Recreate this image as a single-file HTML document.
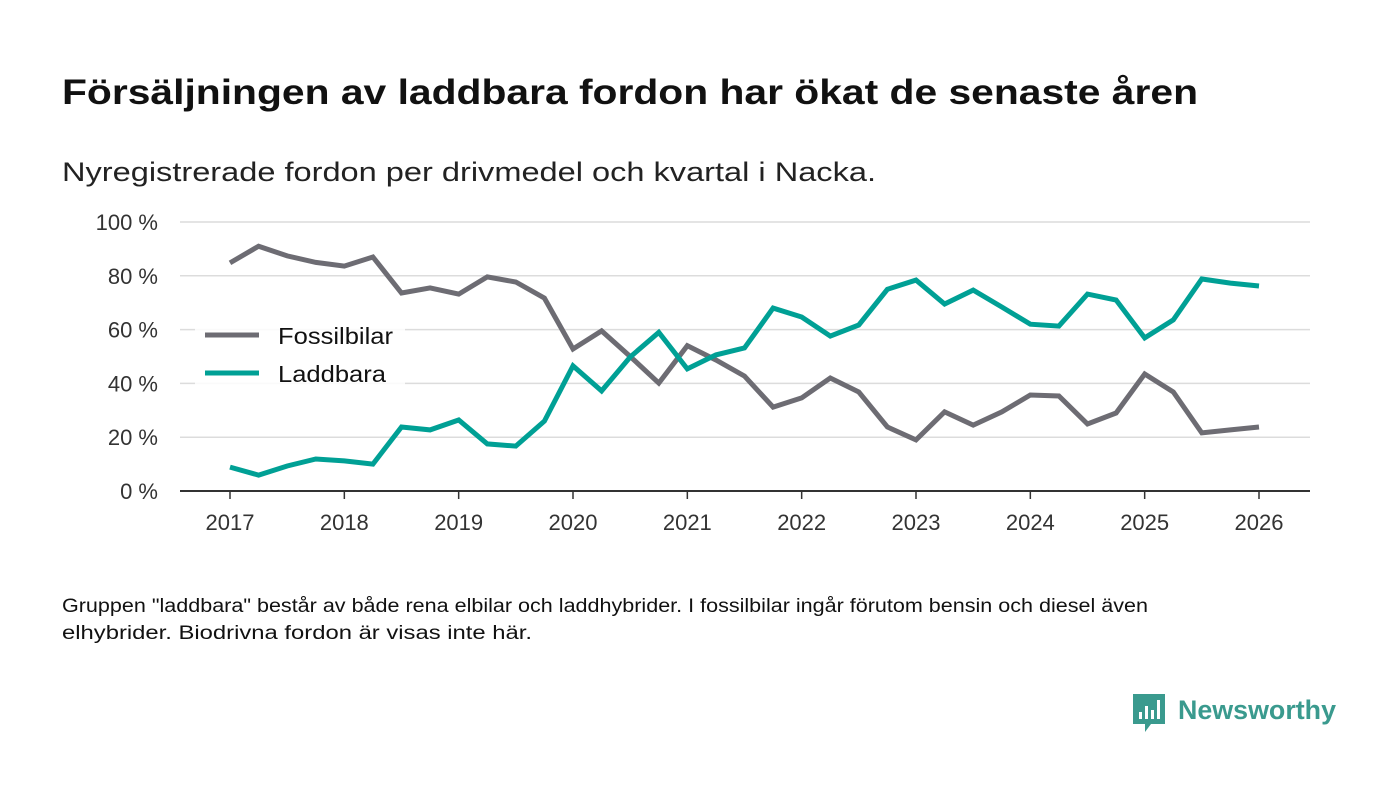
<!DOCTYPE html>
<html><head><meta charset="utf-8"><style>
html,body{margin:0;padding:0;background:#fff;width:1400px;height:793px;overflow:hidden}
svg{display:block;font-family:"Liberation Sans","DejaVu Sans",sans-serif}
</style></head><body>
<svg id="chart" width="1400" height="793" viewBox="0 0 1400 793">
<text x="62" y="104" font-size="35" font-weight="bold" fill="#111" textLength="1136" lengthAdjust="spacingAndGlyphs">Försäljningen av laddbara fordon har ökat de senaste åren</text>
<text x="62" y="181" font-size="27" fill="#222" textLength="814" lengthAdjust="spacingAndGlyphs">Nyregistrerade fordon per drivmedel och kvartal i Nacka.</text>
<g id="grid"></g>
<g id="yaxis"></g>
<g id="xaxis"></g>
<g id="lines"></g>
<g>
<rect x="195" y="318" width="210" height="70" fill="#fff" opacity="0.85"/>
<g><line x1="205" y1="335" x2="259" y2="335" stroke="#6d6c73" stroke-width="5"/><text x="278" y="344" font-size="23" fill="#111" textLength="115" lengthAdjust="spacingAndGlyphs">Fossilbilar</text></g>
<g><line x1="205" y1="373" x2="259" y2="373" stroke="#00a095" stroke-width="5"/><text x="278" y="382" font-size="23" fill="#111" textLength="108" lengthAdjust="spacingAndGlyphs">Laddbara</text></g>
</g>
<text x="62" y="612" font-size="19" fill="#111" textLength="1086" lengthAdjust="spacingAndGlyphs">Gruppen "laddbara" består av både rena elbilar och laddhybrider. I fossilbilar ingår förutom bensin och diesel även</text>
<text x="62" y="639" font-size="19" fill="#111" textLength="470" lengthAdjust="spacingAndGlyphs">elhybrider. Biodrivna fordon är visas inte här.</text>
<g>
<path d="M1133 694 h32 v30 h-14 l-6 8 v-8 h-12 z" fill="#3a9a8e"/>
<rect x="1139" y="712" width="3" height="7" fill="#fff"/><rect x="1145" y="706" width="3" height="13" fill="#fff"/><rect x="1151" y="710" width="3" height="9" fill="#fff"/><rect x="1157" y="700" width="3" height="19" fill="#fff"/>
<text x="1178" y="719" font-size="27" font-weight="bold" fill="#3a9a8e" textLength="158" lengthAdjust="spacingAndGlyphs">Newsworthy</text>
</g>
</svg>
<script>
const years = [2017,2018,2019,2020,2021,2022,2023,2024,2025,2026];
const yTicks = [0,20,40,60,80,100];
const quarters = [];
for (let y = 2017; y <= 2026; y += 0.25) quarters.push(y);
const fossil = [84.8,91,87.4,85,83.6,87,73.6,75.5,73.2,79.6,77.7,71.7,52.8,59.5,50,40.1,54,48.7,42.7,31.2,34.6,42,36.8,23.8,19,29.4,24.5,29.4,35.7,35.3,24.9,29,43.5,36.8,21.6,22.7,23.8];
const laddbara = [8.9,5.9,9.3,11.9,11.2,10,23.8,22.7,26.4,17.5,16.7,26,46.5,37.2,49.8,59,45.4,50.6,53.2,68,64.7,57.6,61.7,75,78.4,69.5,74.7,68.4,62,61.3,73.2,71,56.9,63.6,78.8,77.3,76.2];

const NS = "http://www.w3.org/2000/svg";
const xS = v => 230 + (v - 2017) * (1259 - 230) / 9;
const yS = v => 491 - v * 2.69;
function mk(tag, attrs, parent){const e=document.createElementNS(NS,tag);for(const k in attrs)e.setAttribute(k,attrs[k]);parent.appendChild(e);return e;}
const grid=document.getElementById('grid'), ya=document.getElementById('yaxis'), xa=document.getElementById('xaxis'), lg=document.getElementById('lines');
yTicks.forEach(t=>{
  if(t>0){const l=mk('line',{x1:180,x2:1310,y1:yS(t),y2:yS(t),stroke:'#dcdcdc','stroke-width':1.5},grid);
  
  }
  const tx=mk('text',{x:158,y:yS(t)+8,'font-size':22,fill:'#333','text-anchor':'end'},ya);
  tx.textContent=t+' %';
  
  
});
const ax=mk('line',{x1:180,x2:1310,y1:491,y2:491,stroke:'#333','stroke-width':2},xa);


years.forEach(y=>{
  const tk=mk('line',{x1:xS(y),x2:xS(y),y1:491,y2:499,stroke:'#333','stroke-width':1.5},xa);
  
  
  const tx=mk('text',{x:xS(y),y:530,'font-size':22,fill:'#333','text-anchor':'middle'},xa);
  tx.textContent=y;
  
  
});
function line(vals,color,name){
  const d=vals.map((v,i)=>(i?'L':'M')+xS(quarters[i]).toFixed(1)+' '+yS(v).toFixed(1)).join(' ');
  const p=mk('path',{d:d,fill:'none',stroke:color,'stroke-width':5,'stroke-linejoin':'miter'},lg);
  
  
}
line(fossil,'#6d6c73','line-fossilbilar');
line(laddbara,'#00a095','line-laddbara');
</script>
</body></html>
